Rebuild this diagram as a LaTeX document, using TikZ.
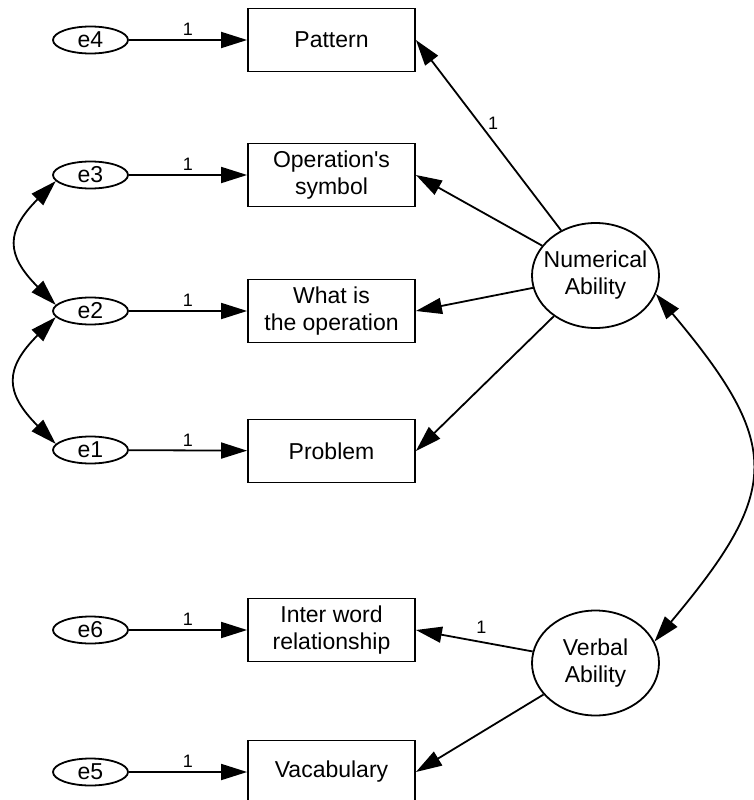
\documentclass[tikz,border=0pt]{standalone}
\usepackage{fontspec}
\setmainfont{Liberation Sans}
\usetikzlibrary{arrows.meta,shapes.geometric}

\begin{document}
\begin{tikzpicture}[x = 1pt, y = 1pt,
                    line width = 1.8pt,
                    > = {Triangle[length=26pt,width=16pt]},
                    indicator/.style = {draw, rectangle, minimum width=167pt, minimum height=63pt,
                                        inner sep=0pt, align=center, font=\fontsize{23}{27}\selectfont},
                    errterm/.style = {draw, ellipse, minimum width=75pt, minimum height=27pt,
                                      inner sep=0pt, font=\fontsize{23}{27}\selectfont},
                    factor/.style = {draw, ellipse, minimum width=127pt, minimum height=105pt,
                                     inner xsep=-12pt, inner ysep=0pt, align=center,
                                     font=\fontsize{23}{27}\selectfont},
                    weight/.style = {font=\fontsize{18}{20}\selectfont}]
\useasboundingbox (0,0) rectangle (753,-800);

% observed variables
\node[indicator] (pattern) at (331.5,-40)  {Pattern};
\node[indicator] (opsym)   at (331.5,-175) {Operation\textquotesingle s\\symbol};
\node[indicator] (whatop)  at (331.5,-311) {What is\\the operation};
\node[indicator] (problem) at (331.5,-451) {Problem};
\node[indicator] (interw)  at (331.5,-630) {Inter word\\relationship};
\node[indicator] (vocab)   at (331.5,-772) {Vacabulary};

% error terms
\node[errterm] (e4) at (90.5,-40)  {e4};
\node[errterm] (e3) at (90.5,-175) {e3};
\node[errterm] (e2) at (90.5,-311) {e2};
\node[errterm] (e1) at (90.5,-450) {e1};
\node[errterm] (e6) at (90.5,-630) {e6};
\node[errterm] (e5) at (90.5,-772) {e5};

% latent factors
\node[factor] (numab) at (595.5,-275.5) {Numerical\\Ability};
\node[factor] (verab) at (595.5,-663)   {Verbal\\Ability};

% errors
\draw[->] (e4) -- node[weight, above] {1} (pattern);
\draw[->] (e3) -- node[weight, above] {1} (opsym);
\draw[->] (e2) -- node[weight, above] {1} (whatop);
\draw[->] (e1) -- node[weight, above] {1} (problem);
\draw[->] (e6) -- node[weight, above] {1} (interw);
\draw[->] (e5) -- node[weight, above] {1} (vocab);

% loadings
\draw[->] (numab) -- node[weight, pos=0.56, right=4pt] {1} (pattern.east);
\draw[->] (numab) -- (opsym.east);
\draw[->] (numab) -- (whatop.east);
\draw[->] (numab) -- (problem.east);
\draw[->] (verab) -- node[weight, pos=0.44, above=4pt] {1} (interw.east);
\draw[->] (verab) -- (vocab.east);

% covariances
\draw[<->] (e3.190) to[out=225, in=135, looseness=1.47] (e2.170);
\draw[<->] (e2.190) to[out=225, in=135, looseness=1.47] (e1.170);
\draw[<->] (numab.-17) to[out=-50, in=50, looseness=1.45] (verab.20);

\end{tikzpicture}
\end{document}
